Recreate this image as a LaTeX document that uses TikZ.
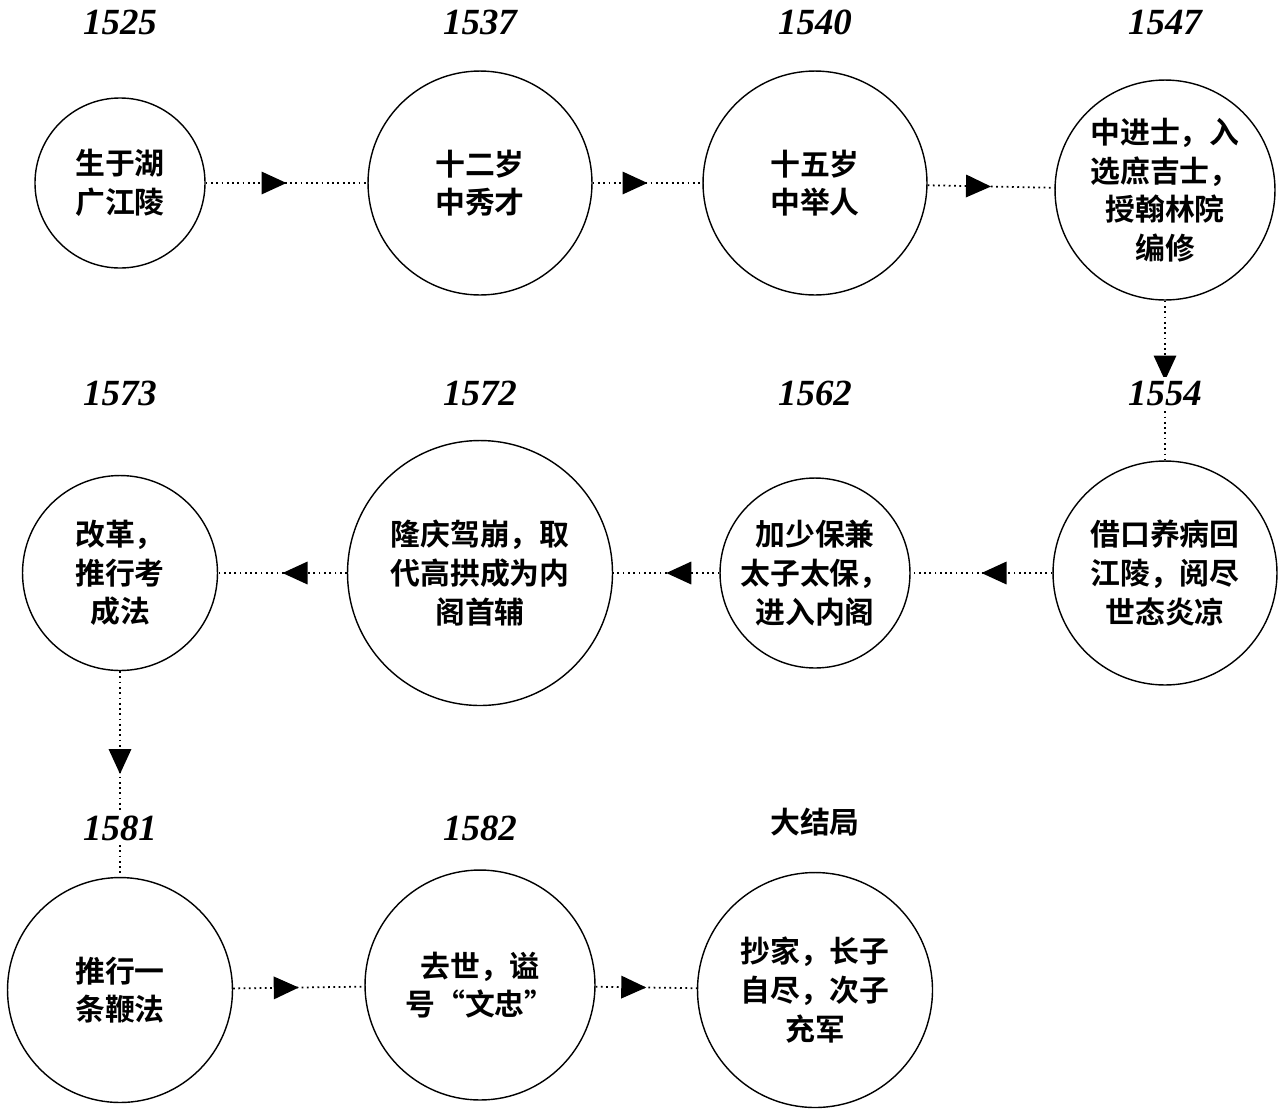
\documentclass[tikz,border=0pt]{standalone}
\usepackage{fontspec}
\setmainfont{Liberation Serif}
\newfontfamily\cjk{Noto Sans CJK SC}[BoldFont={Noto Sans CJK SC Bold}]
\usetikzlibrary{decorations.markings,arrows.meta}
\begin{document}
\begin{tikzpicture}[x=0.02cm, y=-0.02cm, line width=0.8pt,
    event/.style={circle, draw, align=center, inner sep=0pt, font=\cjk\bfseries\fontsize{17}{22}\selectfont},
    year/.style={fill=white, inner sep=2pt, font=\bfseries\itshape\fontsize{21}{24}\selectfont},
    link/.style={dotted, line width=1pt, decoration={markings, mark=at position 0.5 with {\arrow{Triangle[length=0.5cm,width=0.45cm]}}}, postaction={decorate}}]
    \useasboundingbox (0,0) rectangle (1280,1113);

    % Events
    \node[event, minimum size=170\pgflinewidth/0.8*0.02cm] (e1) at (120,183) {生于湖\\广江陵};
    \node[event, minimum size=4.48cm] (e2) at (480,183) {十二岁\\中秀才};
    \node[event, minimum size=4.48cm] (e3) at (815,183) {十五岁\\中举人};
    \node[event, minimum size=4.4cm] (e4) at (1165,190) {中进士，入\\选庶吉士，\\授翰林院\\编修};
    \node[event, minimum size=4.48cm] (e5) at (1165,573) {借口养病回\\江陵，阅尽\\世态炎凉};
    \node[event, minimum size=3.8cm] (e6) at (815,573) {加少保兼\\太子太保，\\进入内阁};
    \node[event, minimum size=5.3cm] (e7) at (480,573) {隆庆驾崩，取\\代高拱成为内\\阁首辅};
    \node[event, minimum size=3.9cm] (e8) at (120,573) {改革，\\推行考\\成法};
    \node[event, minimum size=4.5cm] (e9) at (120,990) {推行一\\条鞭法};
    \node[event, minimum size=4.6cm] (e10) at (480,985) {去世，谥\\号“文忠”};
    \node[event, minimum size=4.7cm] (e11) at (815,990) {抄家，长子\\自尽，次子\\充军};

    % Links
    \draw[link] (e1) -- (e2);
    \draw[link] (e2) -- (e3);
    \draw[link] (e3) -- (e4);
    \draw[link] (e4) -- (e5);
    \draw[link] (e5) -- (e6);
    \draw[link] (e6) -- (e7);
    \draw[link] (e7) -- (e8);
    \draw[link] (e8) -- (e9);
    \draw[link] (e9) -- (e10);
    \draw[link] (e10) -- (e11);

    % Years
    \node[year] (y1) at (120,22) {1525};
    \node[year] (y2) at (480,22) {1537};
    \node[year] (y3) at (815,22) {1540};
    \node[year] (y4) at (1165,22) {1547};
    \node[year] (y5) at (1165,393) {1554};
    \node[year] (y6) at (815,393) {1562};
    \node[year] (y7) at (480,393) {1572};
    \node[year] (y8) at (120,393) {1573};
    \node[year] (y9) at (120,828) {1581};
    \node[year] (y10) at (480,828) {1582};
    \node[year, font=\cjk\bfseries\fontsize{17}{20}\selectfont] (y11) at (815,822) {大结局};
\end{tikzpicture}
\end{document}
